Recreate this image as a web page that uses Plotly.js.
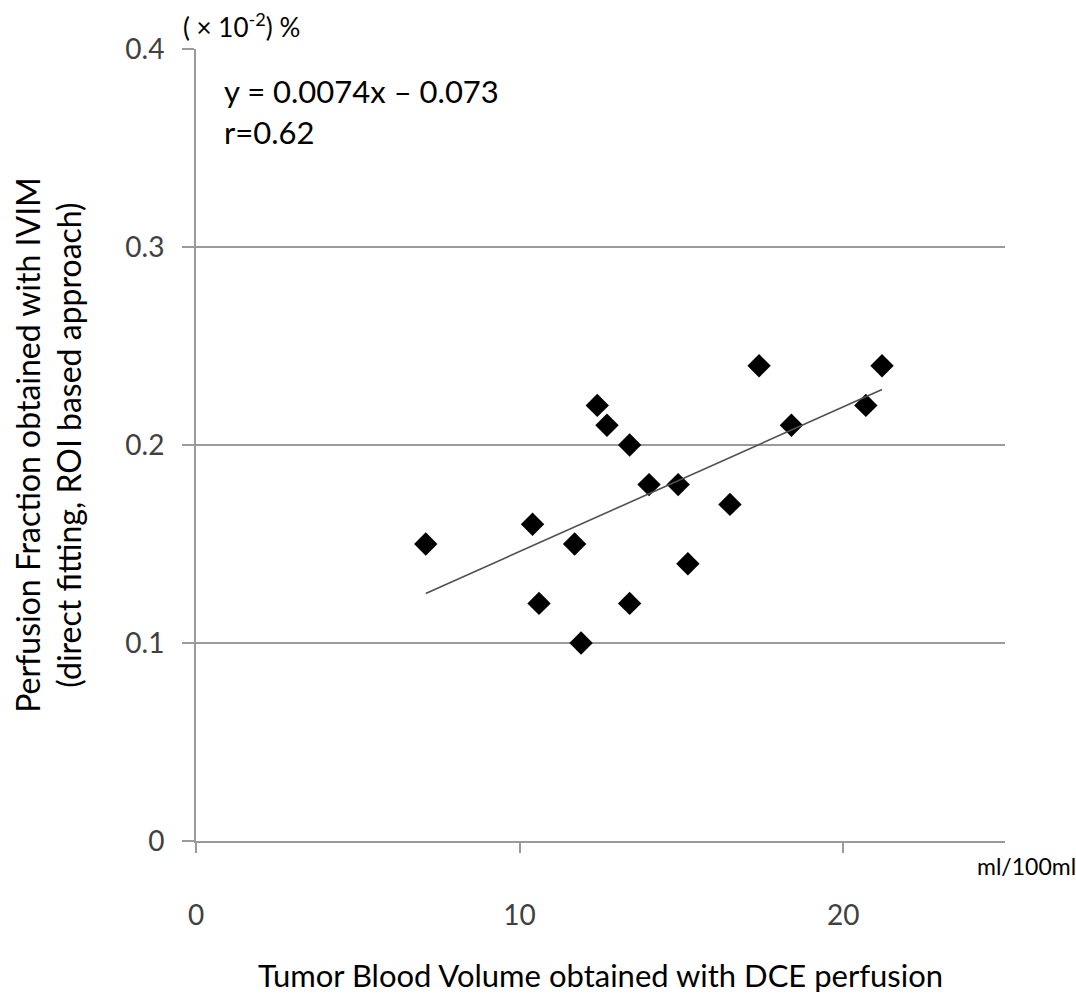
<!DOCTYPE html>
<html>
<head>
<meta charset="utf-8">
<script src="https://cdn.plot.ly/plotly-3.0.1.min.js"></script>
<style>html,body{margin:0;padding:0;background:#fff;}#chart{width:1076px;height:1000px;}</style>
</head>
<body>
<div id="chart"></div>
<script>
// Data
const bloodVolume = [7.1, 10.4, 10.6, 11.7, 11.9, 12.4, 12.7, 13.4, 13.4, 14.0, 14.9, 15.2, 16.5, 17.4, 18.4, 20.7, 21.2];
const perfusionFraction = [0.15, 0.16, 0.12, 0.15, 0.10, 0.22, 0.21, 0.20, 0.12, 0.18, 0.18, 0.14, 0.17, 0.24, 0.21, 0.22, 0.24];
const trendX = [7.1, 21.2];
const trendY = [0.125, 0.228];
const yTickVals = [0, 0.1, 0.2, 0.3, 0.4];
const yTickText = ["0", "0.1", "0.2", "0.3", "0.4"];
const xTickVals = [0, 10, 20];
const xTickText = ["0", "10", "20"];

const FONT = "Lato, 'Open Sans', sans-serif";

const traces = [
  {
    x: bloodVolume, y: perfusionFraction, type: 'scatter', mode: 'markers',
    marker: {symbol: 'diamond', size: 18, color: '#000000'},
    hoverinfo: 'x+y', showlegend: false
  },
  {
    x: trendX, y: trendY, type: 'scatter', mode: 'lines',
    line: {color: '#505050', width: 1.6},
    hoverinfo: 'skip', showlegend: false
  }
];

const layout = {
  width: 1076, height: 1000,
  margin: {l: 196, r: 71, t: 49, b: 159},
  paper_bgcolor: '#ffffff', plot_bgcolor: '#ffffff',
  font: {family: FONT, color: '#000000'},
  showlegend: false,
  xaxis: {
    range: [0, 25], tickvals: xTickVals, ticktext: xTickText,
    showgrid: false, zeroline: false,
    showline: true, linecolor: '#9a9a9a', linewidth: 2,
    ticks: 'outside', ticklen: 10, tickcolor: '#9a9a9a', tickwidth: 2,
    ticklabelstandoff: 38,
    tickfont: {family: FONT, size: 28, color: '#404040'},
    title: {text: 'Tumor Blood Volume obtained with DCE perfusion', font: {family: FONT, size: 31, color: '#000000'}, standoff: 36},
    fixedrange: true
  },
  yaxis: {
    range: [0, 0.4], tickvals: yTickVals, ticktext: yTickText,
    showgrid: true, gridcolor: '#9a9a9a', gridwidth: 2,
    zeroline: false,
    showline: true, linecolor: '#9a9a9a', linewidth: 2,
    ticks: 'outside', ticklen: 12, tickcolor: '#9a9a9a', tickwidth: 2,
    ticklabelstandoff: 12,
    tickfont: {family: FONT, size: 28, color: '#404040'},
    title: {text: 'Perfusion Fraction obtained with IVIM<br>(direct fitting, ROI based approach)', font: {family: FONT, size: 32, color: '#000000'}, standoff: 34},
    fixedrange: true
  },
  annotations: [
    {xref: 'paper', yref: 'paper', x: -0.018, y: 1.0, xanchor: 'left', yanchor: 'bottom', yshift: 4,
     text: '( × 10<sup>-2</sup>) %', showarrow: false, font: {family: FONT, size: 26, color: '#000000'}},
    {xref: 'paper', yref: 'paper', x: 0.032, y: 0.973, xanchor: 'left', yanchor: 'top',
     text: 'y = 0.0074x – 0.073', showarrow: false, font: {family: FONT, size: 31, color: '#000000'}},
    {xref: 'paper', yref: 'paper', x: 0.032, y: 0.922, xanchor: 'left', yanchor: 'top',
     text: 'r=0.62', showarrow: false, font: {family: FONT, size: 31, color: '#000000'}},
    {xref: 'paper', yref: 'paper', x: 1.0, y: 0, xanchor: 'left', yanchor: 'top', xshift: -30, yshift: -9,
     text: 'ml/100ml', showarrow: false, font: {family: FONT, size: 23, color: '#000000'}}
  ]
};

Plotly.newPlot('chart', traces, layout, {displayModeBar: false, staticPlot: true});
</script>
</body>
</html>
